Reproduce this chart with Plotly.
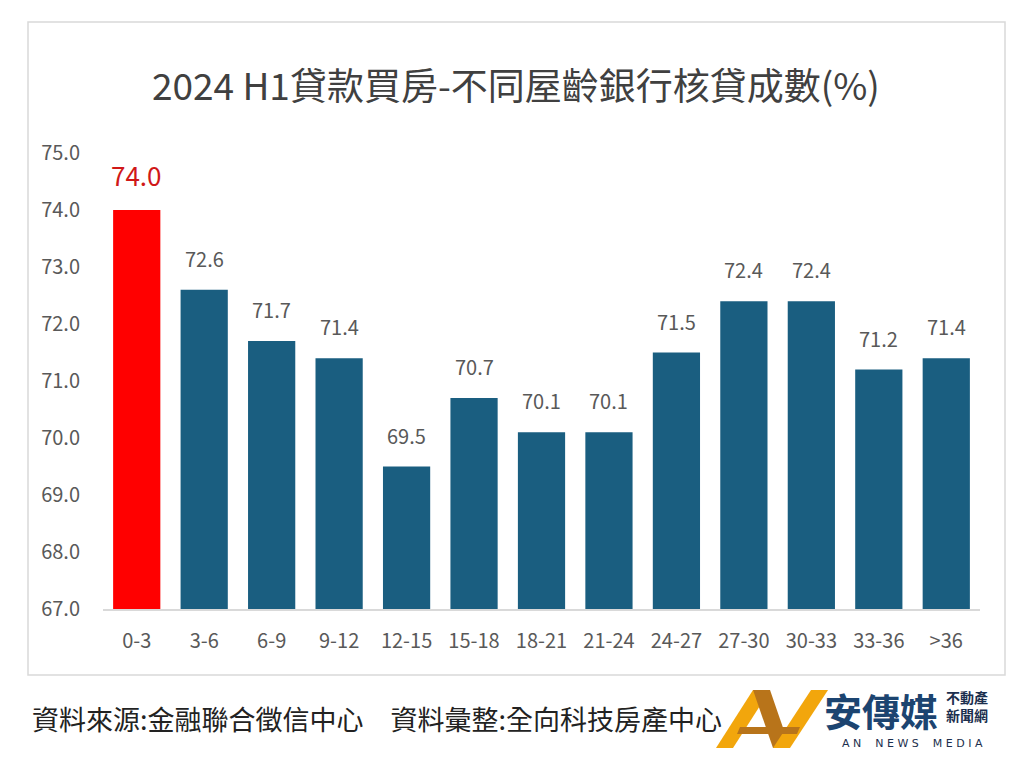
import plotly.graph_objects as go

categories = ["0-3", "3-6", "6-9", "9-12", "12-15", "15-18", "18-21", "21-24",
              "24-27", "27-30", "30-33", "33-36", ">36"]
values = [74.0, 72.6, 71.7, 71.4, 69.5, 70.7, 70.1, 70.1, 71.5, 72.4, 72.4, 71.2, 71.4]
y_ticks = [67.0, 68.0, 69.0, 70.0, 71.0, 72.0, 73.0, 74.0, 75.0]

W, H = 1024, 768
OFF = 8  # page body margin offset
RED = "#FF0000"
BLUE = "#1A5E80"
GREY = "#595959"
FONT = "Noto Sans CJK TC, sans-serif"
CJK = "Noto Sans CJK TC, sans-serif"

colors = [RED] + [BLUE] * (len(values) - 1)

def px(x):
    return (x - OFF) / W

def py(y):
    return 1 - (y - OFF) / H

fig = go.Figure()
fig.add_trace(go.Bar(
    x=categories, y=values, marker=dict(color=colors, line=dict(width=0)),
    hoverinfo="x+y", showlegend=False,
))

annotations = []
for i, (c, v) in enumerate(zip(categories, values)):
    if i == 0:
        annotations.append(dict(x=c, y=v, xref="x", yref="y", text=f"{v:.1f}",
                                showarrow=False, yanchor="bottom", yshift=15,
                                font=dict(family=FONT, size=26, color="#D01818")))
    else:
        annotations.append(dict(x=c, y=v, xref="x", yref="y", text=f"{v:.1f}",
                                showarrow=False, yanchor="bottom", yshift=15,
                                font=dict(family=FONT, size=20, color=GREY)))

annotations.append(dict(x=px(516), y=py(84), xref="paper", yref="paper",
                        text="2024 H1貸款買房-不同屋齡銀行核貸成數(%)", showarrow=False,
                        xanchor="center", yanchor="middle",
                        font=dict(family=FONT, size=37, color="#404040")))
annotations.append(dict(x=px(30), y=py(718), xref="paper", yref="paper",
                        text="資料來源:金融聯合徵信中心　資料彙整:全向科技房產中心", showarrow=False,
                        xanchor="left", yanchor="middle",
                        font=dict(family=CJK, size=27, color="#222222")))
# logo texts
annotations.append(dict(x=px(822), y=py(709), xref="paper", yref="paper",
                        text="<b>安傳媒</b>", showarrow=False, xanchor="left", yanchor="middle",
                        font=dict(family=CJK, size=38, color="#1C4470")))
annotations.append(dict(x=px(944), y=py(706), xref="paper", yref="paper",
                        text="<b>不動產<br>新聞網</b>", showarrow=False, xanchor="left", yanchor="middle",
                        align="left", font=dict(family=CJK, size=14, color="#1C2F4E")))
annotations.append(dict(x=px(840), y=py(743), xref="paper", yref="paper",
                        text="A N    N E W S    M E D I A", showarrow=False, xanchor="left",
                        yanchor="middle", font=dict(family="DejaVu Sans", size=11, color="#1C2F4E")))

shapes = [
    dict(type="rect", xref="paper", yref="paper", x0=px(28), x1=px(1005), y0=py(675), y1=py(22),
         line=dict(color="#D9D9D9", width=1.5), fillcolor="rgba(0,0,0,0)", layer="below"),
]

def poly(pts, color):
    path = "M " + " L ".join(f"{px(a)},{py(b)}" for a, b in pts) + " Z"
    return dict(type="path", xref="paper", yref="paper", path=path,
                fillcolor=color, line=dict(width=0))

shapes += [
    poly([(716, 748), (733, 748), (770, 690), (753, 690)], "#F2A60C"),
    poly([(753, 690), (770, 690), (790, 748), (773, 748)], "#B8741A"),
    poly([(773, 748), (790, 748), (828, 690), (811, 690)], "#F2A60C"),
    poly([(740, 727), (800, 727), (797, 734), (737, 734)], "#B8741A"),
]

fig.update_layout(
    width=W, height=H,
    margin=dict(l=0, r=0, t=0, b=0, pad=0, autoexpand=False),
    paper_bgcolor="white", plot_bgcolor="white",
    bargap=0.3,
    xaxis=dict(domain=[px(103), px(980)], showgrid=False, showline=True, automargin=False,
               linecolor="#D9D9D9", linewidth=1.5, ticks="", ticklabelstandoff=13,
               tickfont=dict(family=FONT, size=20, color=GREY), fixedrange=True),
    yaxis=dict(domain=[py(609), py(153)], range=[67, 75], tickvals=y_ticks, automargin=False,
               ticktext=[f"{t:.1f}" for t in y_ticks], showgrid=False, zeroline=False,
               showline=False, ticks="", ticklabelstandoff=22,
               tickfont=dict(family=FONT, size=20, color=GREY), fixedrange=True),
    annotations=annotations, shapes=shapes,
)

fig.write_html("out.html")
